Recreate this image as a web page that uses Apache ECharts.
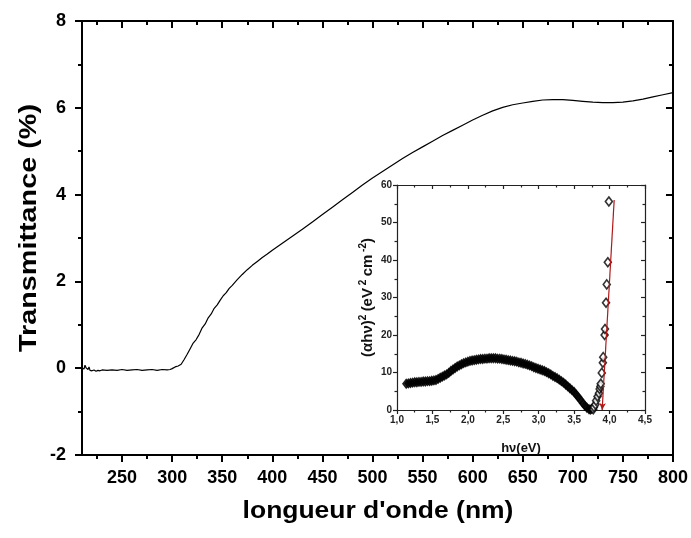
<!DOCTYPE html>
<html>
<head>
<meta charset="utf-8">
<script src="https://cdn.jsdelivr.net/npm/echarts@6/dist/echarts.min.js"></script>
<style>
  html, body { margin: 0; padding: 0; background: #fff; }
  #chart { width: 691px; height: 538px; }
</style>
</head>
<body>
<div id="chart"></div>
<script>
// Transmittance spectrum: wavelength (nm) and transmittance (%)
const wavelength = [210,211,212,213,214,215,216,217,218,219,220,222,224,226,228,230,235,240,245,250,255,260,265,270,275,280,285,290,295,298,300,303,306,309,312,315,318,321,324,327,330,333,336,339,342,345,348,351,354,357,360,365,370,375,380,385,390,395,400,410,420,430,440,450,460,470,480,490,500,510,520,530,540,550,560,570,580,590,600,610,620,630,640,650,660,670,680,690,700,710,720,730,740,750,760,770,780,790,800];
const transmittance = [0.0,0.04,-0.02,0.07,0.01,0.05,-0.03,0.03,-0.05,-0.02,-0.06,-0.04,-0.07,-0.05,-0.06,-0.04,-0.05,-0.04,-0.05,-0.03,-0.05,-0.04,-0.03,-0.05,-0.04,-0.03,-0.05,-0.03,-0.04,-0.03,-0.01,0.03,0.05,0.09,0.2,0.32,0.45,0.58,0.66,0.78,0.93,1.02,1.16,1.25,1.38,1.46,1.57,1.67,1.74,1.84,1.91,2.04,2.16,2.27,2.37,2.46,2.55,2.63,2.72,2.88,3.04,3.2,3.37,3.54,3.71,3.88,4.05,4.22,4.38,4.53,4.68,4.83,4.97,5.1,5.23,5.36,5.48,5.6,5.72,5.83,5.93,6.01,6.07,6.11,6.15,6.18,6.19,6.19,6.17,6.15,6.13,6.12,6.12,6.13,6.16,6.2,6.25,6.3,6.35];

// Tauc plot, closely spaced measurements below the edge: photon energy (eV), (alpha h nu)^2
const denseEnergy = [1.13,1.16,1.19,1.22,1.25,1.28,1.31,1.34,1.37,1.40,1.43,1.46,1.49,1.52,1.55,1.58,1.61,1.64,1.67,1.70,1.73,1.76,1.79,1.82,1.85,1.88,1.91,1.94,1.97,2.00,2.03,2.06,2.09,2.12,2.15,2.18,2.21,2.24,2.27,2.30,2.33,2.36,2.39,2.42,2.45,2.48,2.51,2.54,2.57,2.60,2.63,2.66,2.69,2.72,2.75,2.78,2.81,2.84,2.87,2.90,2.93,2.96,2.99,3.02,3.05,3.08,3.11,3.14,3.17,3.20,3.23,3.26,3.29,3.32,3.35,3.38,3.41,3.44,3.47,3.50,3.53,3.56,3.59,3.62,3.65,3.68,3.71,3.73,3.75];
const denseValue = [7.0,7.1,7.2,7.3,7.4,7.4,7.5,7.5,7.6,7.6,7.7,7.7,7.8,7.9,8.0,8.3,8.6,8.9,9.2,9.5,9.9,10.4,10.8,11.2,11.6,11.9,12.2,12.5,12.7,12.9,13.1,13.2,13.3,13.4,13.5,13.6,13.6,13.7,13.7,13.8,13.8,13.8,13.8,13.7,13.7,13.6,13.5,13.4,13.3,13.2,13.1,13.0,12.9,12.7,12.6,12.4,12.3,12.1,11.9,11.7,11.4,11.2,11.0,10.8,10.6,10.4,10.1,9.8,9.5,9.1,8.8,8.5,8.1,7.7,7.3,6.8,6.3,5.8,5.3,4.8,4.1,3.4,2.7,1.9,1.2,0.6,0.2,0.1,0.3];

// Tauc plot, points on the absorption edge
const edgeEnergy = [3.77,3.78,3.80,3.81,3.83,3.85,3.86,3.87,3.875,3.89,3.905,3.91,3.93,3.935,3.95,3.96,3.975,3.99];
const edgeValue = [0.2,0.8,1.5,2.5,3.6,4.5,5.6,6.3,7.0,9.9,12.6,14.1,20.0,21.6,28.6,33.5,39.4,55.6];

// Linear fit of the absorption edge (top end, intercept on the energy axis)
const fitEnergy = [4.065, 3.895];
const fitValue = [56, 0];

// Tick values
const wlMajor = [250,300,350,400,450,500,550,600,650,700,750,800];
const wlMinor = [225,275,325,375,425,475,525,575,625,675,725,775];

const FONT = 'Liberation Sans';
const zip = (a, b) => a.map((v, i) => [v, b[i]]);

const chart = echarts.init(document.getElementById('chart'), null, { renderer: 'canvas' });

const blackLine = { show: true, onZero: false, lineStyle: { color: '#000', width: 2 } };
const insetLine = { show: true, onZero: false, lineStyle: { color: '#222', width: 1.2 } };
const noLine = { show: false, onZero: false };
const blackTick = w => ({ color: '#000', width: w });
const insetTick = { color: '#222', width: 1.2 };

chart.setOption({
  animation: false,
  backgroundColor: '#fff',
  grid: [
    { left: 82, right: 18, top: 21, bottom: 83 },
    { left: 397, right: 46, top: 185, bottom: 128 }
  ],
  graphic: [
    { // x-axis title
      type: 'text', x: 378, y: 512, scaleX: 1.15,
      style: { text: "longueur d'onde (nm)", font: 'bold 23px "Liberation Sans"', fill: '#000',
        textAlign: 'center', textVerticalAlign: 'middle' }
    },
    { // y-axis title
      type: 'text', x: 29, y: 228, rotation: Math.PI / 2, scaleX: 1.2,
      style: { text: 'Transmittance (%)', font: 'bold 24px "Liberation Sans"', fill: '#000',
        textAlign: 'center', textVerticalAlign: 'middle' }
    }
  ],
  xAxis: [
    { // main bottom axis
      gridIndex: 0, type: 'value', position: 'bottom', min: 210, max: 800,
      axisLine: blackLine,
      axisTick: { show: true, customValues: wlMajor, length: 7, lineStyle: blackTick(2) },
      axisLabel: { customValues: wlMajor, fontFamily: FONT, fontWeight: 'bold', fontSize: 18, color: '#000', margin: 14 },
      splitLine: { show: false }
    },
    { // main bottom minor ticks
      gridIndex: 0, type: 'value', position: 'bottom', min: 210, max: 800,
      axisLine: noLine,
      axisTick: { show: true, customValues: wlMinor, length: 4, lineStyle: blackTick(2) },
      axisLabel: { show: false }, splitLine: { show: false }
    },
    { // main top axis
      gridIndex: 0, type: 'value', position: 'top', min: 210, max: 800,
      axisLine: blackLine,
      axisTick: { show: true, inside: true, customValues: wlMajor, length: 7, lineStyle: blackTick(2) },
      axisLabel: { show: false }, splitLine: { show: false }
    },
    { // main top minor ticks
      gridIndex: 0, type: 'value', position: 'top', min: 210, max: 800,
      axisLine: noLine,
      axisTick: { show: true, inside: true, customValues: wlMinor, length: 4, lineStyle: blackTick(2) },
      axisLabel: { show: false }, splitLine: { show: false }
    },
    { // inset bottom axis
      gridIndex: 1, type: 'value', position: 'bottom', min: 1, max: 4.5, interval: 0.5,
      axisLine: insetLine,
      axisTick: { show: true, length: 4, lineStyle: insetTick },
      minorTick: { show: true, splitNumber: 2, length: 2.5, lineStyle: insetTick },
      axisLabel: { fontFamily: FONT, fontWeight: 'bold', fontSize: 10, color: '#222', margin: 5,
        formatter: v => v.toFixed(1).replace('.', ',') },
      splitLine: { show: false },
      name: 'hν(eV)', nameLocation: 'middle', nameGap: 32,
      nameTextStyle: { fontFamily: FONT, fontWeight: 'bold', fontSize: 13, color: '#111' }
    },
    { // inset top axis
      gridIndex: 1, type: 'value', position: 'top', min: 1, max: 4.5, interval: 0.5,
      axisLine: insetLine,
      axisTick: { show: true, inside: true, length: 4, lineStyle: insetTick },
      minorTick: { show: true, splitNumber: 2, length: 2.5, lineStyle: insetTick },
      axisLabel: { show: false }, splitLine: { show: false }
    }
  ],
  yAxis: [
    { // main left axis
      gridIndex: 0, type: 'value', position: 'left', min: -2, max: 8, interval: 2,
      axisLine: blackLine,
      axisTick: { show: true, length: 7, lineStyle: blackTick(2) },
      minorTick: { show: true, splitNumber: 2, length: 4, lineStyle: blackTick(2) },
      axisLabel: { fontFamily: FONT, fontWeight: 'bold', fontSize: 18, color: '#000', margin: 16 },
      splitLine: { show: false }
    },
    { // main right axis
      gridIndex: 0, type: 'value', position: 'right', min: -2, max: 8, interval: 2,
      axisLine: blackLine,
      axisTick: { show: true, inside: true, length: 7, lineStyle: blackTick(2) },
      minorTick: { show: true, splitNumber: 2, length: 4, lineStyle: blackTick(2) },
      axisLabel: { show: false }, splitLine: { show: false }
    },
    { // inset left axis
      gridIndex: 1, type: 'value', position: 'left', min: 0, max: 60, interval: 10,
      axisLine: insetLine,
      axisTick: { show: true, length: 4, lineStyle: insetTick },
      minorTick: { show: true, splitNumber: 2, length: 2.5, lineStyle: insetTick },
      axisLabel: { fontFamily: FONT, fontWeight: 'bold', fontSize: 10, color: '#222', margin: 5 },
      splitLine: { show: false },
      name: '{b|(αhν)}{s|2} {b|(eV}{s| 2} {b|cm}{s| -2}{b|)}', nameLocation: 'middle', nameGap: 22,
      nameTextStyle: {
        color: '#111',
        rich: {
          b: { fontFamily: FONT, fontWeight: 'bold', fontSize: 15, color: '#111', verticalAlign: 'bottom', lineHeight: 17 },
          s: { fontFamily: FONT, fontWeight: 'bold', fontSize: 10, color: '#111', verticalAlign: 'top', lineHeight: 17 }
        }
      }
    },
    { // inset right axis
      gridIndex: 1, type: 'value', position: 'right', min: 0, max: 60, interval: 10,
      axisLine: insetLine,
      axisTick: { show: true, inside: true, length: 4, lineStyle: insetTick },
      minorTick: { show: true, splitNumber: 2, length: 2.5, lineStyle: insetTick },
      axisLabel: { show: false }, splitLine: { show: false }
    }
  ],
  series: [
    {
      name: 'Transmittance', type: 'line', xAxisIndex: 0, yAxisIndex: 0,
      data: zip(wavelength, transmittance), showSymbol: false, symbol: 'none',
      lineStyle: { color: '#000', width: 1.2 }
    },
    {
      name: 'Fit', type: 'line', xAxisIndex: 4, yAxisIndex: 2, z: 1,
      data: [],
      markLine: {
        silent: true, symbol: ['none', 'arrow'], symbolSize: [5, 7],
        label: { show: false },
        lineStyle: { color: '#b01818', width: 1.2, type: 'solid' },
        data: [[
          { coord: [fitEnergy[0], fitValue[0]] },
          { coord: [fitEnergy[1], fitValue[1]] }
        ]]
      }
    },
    { // overlapping diamonds merge into a solid band
      name: 'Tauc dense', type: 'scatter', xAxisIndex: 4, yAxisIndex: 2, z: 3,
      data: zip(denseEnergy, denseValue), symbol: 'diamond', symbolSize: [7, 9],
      itemStyle: { color: '#000', borderColor: '#000', borderWidth: 1.2 }
    },
    {
      name: 'Tauc edge', type: 'scatter', xAxisIndex: 4, yAxisIndex: 2, z: 3,
      data: zip(edgeEnergy, edgeValue), symbol: 'diamond', symbolSize: [7, 9],
      itemStyle: { color: '#fff', borderColor: '#000', borderWidth: 1.6 }
    }
  ]
});
</script>
</body>
</html>
